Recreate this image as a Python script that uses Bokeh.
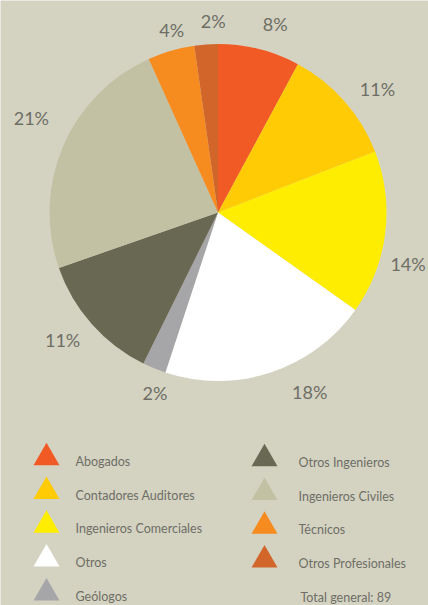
import math
from bokeh.plotting import figure
from bokeh.models import Range1d, ColumnDataSource
from bokeh.core.properties import value
from bokeh.embed import file_html
from bokeh.resources import INLINE

# ---- data ----
categories = ["Abogados", "Contadores Auditores", "Ingenieros Comerciales", "Otros",
              "Geólogos", "Otros Ingenieros", "Ingenieros Civiles", "Técnicos",
              "Otros Profesionales"]
counts = [7, 10, 14, 18, 2, 11, 21, 4, 2]
pct_labels = ["8%", "11%", "14%", "18%", "2%", "11%", "21%", "4%", "2%"]
total_label = "Total general: 89"

# ---- styles / layout ----
colors = ["#F15A24", "#FFCB05", "#FFED00", "#FFFFFF", "#A6A6A8",
          "#696853", "#C2C1A4", "#F68B1F", "#D2652A"]
BG = "#D4D3C2"
TXT = "#6E6E65"
FONT = "Lato"
W, H = 428, 605
cx, cy_page, R = 217.5, 212.0, 168.5
label_shift_deg = [2.7, 3.6, 8.2, -8.8, -3.0, 2.1, 3.5, 1.9, 2.6]
label_dist = [197, 202, 197, 202, 191, 201, 209, 188, 192]


def Y(py):
    return H - py


p = figure(width=W, height=H, x_range=Range1d(0, W), y_range=Range1d(0, H),
           output_backend="svg", toolbar_location=None, x_axis_type=None, y_axis_type=None,
           min_border=0, outline_line_color=None, background_fill_color=BG,
           border_fill_color=BG)
p.grid.visible = False

total = sum(counts)
cum = [0.0]
for c in counts:
    cum.append(cum[-1] + c / total * 2 * math.pi)
starts = [math.pi / 2 - a for a in cum[:-1]]
ends = [math.pi / 2 - a for a in cum[1:]]
cy = Y(cy_page)

src = ColumnDataSource(dict(start=starts, end=ends, color=colors, cat=categories))
p.wedge(x=cx, y=cy, radius=R, start_angle="start", end_angle="end", direction="clock",
        fill_color="color", line_color=None, source=src)

# percentage labels
lx, ly = [], []
for i in range(len(counts)):
    mid = (cum[i] + cum[i + 1]) / 2 + math.radians(label_shift_deg[i])
    lx.append(cx + label_dist[i] * math.sin(mid))
    ly.append(cy + label_dist[i] * math.cos(mid))
p.text(x=lx, y=ly, text=pct_labels, text_font=value(FONT), text_font_size="18px",
       text_color=TXT, text_align="center", text_baseline="middle")

# legend (two columns)
tri_x = [46, 264]
txt_x = [75, 298]
row0 = [460.7, 461.7]
pitch = 33.8
mx, my, tx, ty = [], [], [], []
for i, cat in enumerate(categories):
    col, row = (0, i) if i < 5 else (1, i - 5)
    yy = row0[col] + pitch * row
    mx.append(tri_x[col])
    my.append(Y(yy - 3.5))
    tx.append(txt_x[col])
    ty.append(Y(yy))
p.scatter(x=mx, y=my, marker="triangle", size=26, fill_color=colors, line_color=None)
p.text(x=tx, y=ty, text=categories, text_font=value(FONT), text_font_size="12.5px",
       text_color=TXT, text_align="left", text_baseline="middle")
p.text(x=[txt_x[1] + 2], y=[Y(row0[1] + pitch * 4)], text=[total_label], text_font=value(FONT),
       text_font_size="12.5px", text_color=TXT, text_align="left", text_baseline="middle")

html = file_html(p, INLINE)
html = html.replace("<body>", '<body style="background:%s">' % BG, 1)
open("out.html", "w").write(html)
